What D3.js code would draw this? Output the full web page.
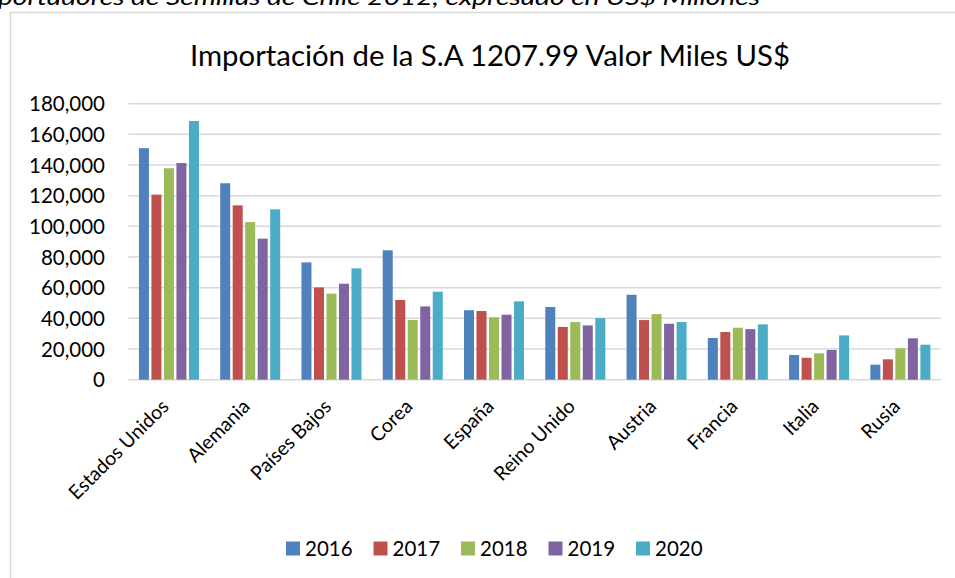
<!DOCTYPE html>
<html><head><meta charset="utf-8">
<script src="https://cdn.jsdelivr.net/npm/d3@7"></script>
<style>
html,body{margin:0;padding:0;background:#fff;overflow:hidden}
text{font-family:Lato,"Open Sans",sans-serif;fill:#000}
</style></head>
<body>
<svg id="c" width="955" height="578"></svg>
<script>
const categories = ["Estados Unidos","Alemania","Países Bajos","Corea","España","Reino Unido","Austria","Francia","Italia","Rusia"];
const years = ["2016","2017","2018","2019","2020"];
const colors = ["#4F81BD","#C0504D","#9BBB59","#8064A2","#4BACC6"];
const v2016 = [151000,128100,76500,84400,45300,47400,55400,27200,16100,9800];
const v2017 = [120700,113700,60200,52000,44800,34400,38900,31100,14300,13300];
const v2018 = [137900,102800,56100,38900,40700,37600,42800,33900,17200,20500];
const v2019 = [141300,92000,62600,47800,42400,35400,36500,33000,19400,27000];
const v2020 = [168700,111100,72600,57400,51100,40200,37600,36100,28900,22800];
const yTicks = [0,20000,40000,60000,80000,100000,120000,140000,160000,180000];
const title = "Importación de la S.A 1207.99 Valor Miles US$";
const caption = "portadores de Semillas de Chile 2012, expresado en US$ Millones";

const series = [v2016,v2017,v2018,v2019,v2020];
const svg = d3.select("#c");

// caption (cut at top, as in the reference)
svg.append("text").attr("x",760).attr("y",5).attr("text-anchor","end")
  .style("font-style","italic").style("font-size","22px").text(caption)
  .attr("textLength",762).attr("lengthAdjust","spacingAndGlyphs");

// frame
svg.append("path").attr("d","M10.5,578 V12.5 H955").attr("fill","none")
  .attr("stroke","#d9d9d9").attr("stroke-width",1.5);

svg.append("text").attr("x",490).attr("y",66).attr("text-anchor","middle")
  .style("font-family","'Liberation Sans Narrow',Lato,sans-serif")
  .style("font-size","29px").text(title)
  .attr("textLength",600).attr("lengthAdjust","spacingAndGlyphs");

const x0 = d3.scaleBand().domain(categories).range([128.3,941]).padding(0);
const x1 = d3.scaleBand().domain(years).range([0,x0.bandwidth()]).paddingInner(0.2).paddingOuter(0.85);
const y = d3.scaleLinear().domain([0,180000]).range([379.7,103.7]);

// gridlines
svg.append("g").selectAll("line").data(yTicks).join("line")
  .attr("x1",128.3).attr("x2",941).attr("y1",d=>y(d)).attr("y2",d=>y(d))
  .attr("stroke","#d9d9d9").attr("stroke-width",1.5);

// y axis labels
const yAxis = d3.axisLeft(y).tickValues(yTicks).tickSize(0).tickPadding(0)
  .tickFormat(d3.format(","));
const ya = svg.append("g").attr("transform","translate(105,0)").call(yAxis);
ya.select(".domain").remove();
ya.selectAll("text").style("font-family","Lato,sans-serif").style("font-size","20.5px").attr("fill","#000").attr("dy","0.35em");

// bars
const g = svg.append("g");
categories.forEach((c,i)=>{
  series.forEach((s,j)=>{
    g.append("rect")
      .attr("x",x0(c)+x1(years[j]))
      .attr("width",x1.bandwidth())
      .attr("y",y(s[i]))
      .attr("height",y(0)-y(s[i]))
      .attr("fill",colors[j]);
  });
});

// x axis labels
const xAxis = d3.axisBottom(x0).tickSize(0).tickPadding(0);
const xa = svg.append("g").attr("transform","translate(0,379.7)").call(xAxis);
xa.select(".domain").remove();
xa.selectAll("text").style("font-family","Lato,sans-serif").style("font-size","19.5px").attr("fill","#000")
  .attr("text-anchor","end").attr("dy",0).attr("y",0)
  .attr("transform","translate(1,28) rotate(-45)");

// legend
const lg = svg.append("g");
years.forEach((yr,j)=>{
  const lx = 286 + j*87.5;
  lg.append("rect").attr("x",lx).attr("y",541.5).attr("width",14).attr("height",14).attr("fill",colors[j]);
  lg.append("text").attr("x",lx+19).attr("y",556).style("font-size","20.5px").text(yr);
});
</script>
</body></html>
